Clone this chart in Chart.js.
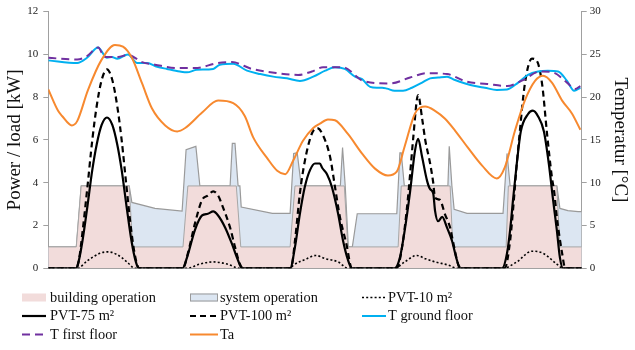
<!DOCTYPE html>
<html><head><meta charset="utf-8">
<script src="https://cdn.jsdelivr.net/npm/chart.js@4.4.0/dist/chart.umd.min.js"></script>
<style>html,body{margin:0;padding:0;background:#fff;}#wrap{width:635px;height:350px;}</style>
</head><body><div id="wrap"><canvas id="c" width="635" height="350"></canvas></div>
<script>
// ---- data (x = hours over 5 days) ----
const buildingH  = [0, 6.3, 7.4, 18.2, 19.0, 30.3, 31.4, 42.3, 43.3, 54.4, 55.5, 66.6, 67.4, 78.7, 79.4, 90.4, 91.0, 103.0, 103.5, 114.4, 115.1, 120];
const buildingKW = [1, 1, 3.85, 3.85, 1, 1, 3.85, 3.85, 1, 1, 3.85, 3.85, 1, 1, 3.85, 3.85, 1, 1, 3.85, 3.85, 1, 1];

const systemH  = [0, 6.3, 7.4, 18.2, 18.8, 24.0, 30.1, 30.3, 31.0, 33.2, 34.1, 40.9, 41.4, 42.0, 42.7, 43.1, 43.4, 50.4, 54.4, 55.2, 56.0, 56.9, 65.7, 66.2, 66.8, 67.5, 68.4, 69.5, 78.4, 79.1, 79.4, 80.1, 89.9, 90.2, 90.8, 91.3, 94.2, 102.3, 103.2, 103.9, 114.4, 115.1, 116.9, 119.2, 120];
const systemKW = [1, 1, 3.85, 3.85, 3.08, 2.8, 2.67, 2.67, 5.55, 5.7, 3.85, 3.85, 5.84, 5.84, 3.85, 3.85, 2.86, 2.57, 2.57, 5.37, 5.4, 3.85, 3.85, 5.65, 3.85, 1, 1, 2.55, 2.55, 5.4, 5.4, 3.85, 3.85, 5.7, 3.85, 2.76, 2.57, 2.57, 5.37, 3.85, 3.85, 2.8, 2.7, 2.65, 2.65];

const pvt10H  = [0, 6.5, 8.9, 11.6, 13.4, 15.4, 17.7, 19.5, 31.2, 34.1, 37.1, 40.2, 43.1, 54.4, 55.1, 58.2, 60.2, 62.3, 65.2, 67.4, 77.9, 80.2, 82.9, 84.8, 87.0, 90.0, 92.0, 102.3, 105.4, 108.8, 111.3, 114.4, 115.8, 120];
const pvt10KW = [0, 0, 0.37, 0.7, 0.77, 0.65, 0.3, 0, 0, 0.2, 0.3, 0.2, 0, 0, 0.14, 0.45, 0.6, 0.45, 0.3, 0, 0, 0.3, 0.6, 0.45, 0.3, 0.15, 0, 0, 0.3, 0.8, 0.7, 0.2, 0, 0];

const pvt75H  = [0, 6.2, 6.8, 7.7, 8.8, 9.9, 10.9, 12.0, 13.2, 14.4, 15.5, 16.5, 17.6, 18.7, 19.7, 20.4,
                 30.2, 31.2, 33.0, 34.6, 35.9, 37.1, 38.2, 39.8, 41.3, 42.5, 43.6,
                 54.4, 55.5, 56.6, 57.7, 58.9, 60.0, 61.1, 61.6, 62.7, 63.8, 65.2, 66.3, 67.4, 68.3,
                 77.9, 79.1, 80.2, 81.4, 82.5, 83.2, 84.1, 85.2, 85.9, 86.6, 87.0, 87.7, 88.6, 89.7, 90.8, 91.9, 92.6,
                 102.1, 103.2, 103.9, 104.6, 105.4, 106.3, 107.9, 109.0, 110.2, 111.5, 112.6, 113.5, 114.4, 115.1, 115.8, 120];
const pvt75KW = [0, 0, 0.3, 1.3, 2.9, 4.6, 5.8, 6.7, 7.05, 6.7, 5.8, 4.6, 2.9, 1.3, 0.3, 0,
                 0, 0.5, 1.8, 2.47, 2.55, 2.66, 2.47, 1.9, 1.15, 0.47, 0,
                 0, 1.0, 2.55, 3.8, 4.6, 4.9, 4.9, 4.7, 4.4, 3.8, 2.55, 1.3, 0.4, 0,
                 0, 0.5, 1.8, 3.6, 5.5, 6.05, 5.2, 4.1, 3.7, 3.5, 2.7, 2.2, 2.4, 1.9, 1.3, 0.4, 0,
                 0, 0.7, 1.8, 3.3, 4.9, 6.4, 7.2, 7.37, 7.1, 6.4, 4.9, 3.3, 1.8, 0.5, 0, 0];

const pvt100H  = [0, 6.3, 6.9, 7.7, 8.8, 9.9, 10.9, 12.0, 13.2, 14.4, 15.5, 16.5, 17.6, 18.7, 19.7, 20.5,
                  30.3, 31.4, 33.0, 34.6, 35.9, 37.1, 38.2, 39.3, 40.9, 42.0, 43.1, 43.8,
                  54.6, 55.5, 56.6, 57.7, 59.3, 60.5, 61.6, 63.4, 64.5, 65.6, 67.2, 67.9, 68.3,
                  78.4, 79.6, 80.7, 81.4, 82.1, 83.2, 84.1, 84.8, 85.9, 86.6, 87.0, 88.1, 89.2, 90.4, 91.0, 92.2, 93.1,
                  102.7, 103.9, 104.6, 105.4, 105.9, 107.2, 108.8, 109.9, 111.1, 112.2, 113.3, 113.8, 114.4, 115.6, 116.3, 120];
const pvt100KW = [0, 0, 0.4, 1.7, 3.8, 6.0, 7.6, 8.8, 9.3, 8.8, 7.6, 6.0, 3.8, 1.7, 0.4, 0,
                  0, 0.7, 2.1, 3.2, 3.4, 3.6, 3.4, 2.85, 1.9, 1.0, 0.2, 0,
                  0, 1.3, 3.5, 5.0, 6.3, 6.55, 6.3, 5.2, 3.8, 2.4, 1.0, 0.2, 0,
                  0, 1.0, 2.85, 4.4, 6.1, 8.1, 7.0, 6.0, 4.9, 4.0, 3.3, 3.2, 2.55, 1.9, 1.3, 0.2, 0,
                  0, 1.3, 2.85, 4.9, 6.0, 8.6, 9.8, 9.7, 8.6, 6.3, 4.25, 3.6, 2.4, 0.7, 0, 0];

const tGroundH = [0, 6.5, 8.7, 11.2, 13.2, 14.3, 15.5, 17.9, 20.0, 22.2, 24.5, 26.7, 29.6, 31.2, 33.4, 37.1, 38.6, 41.6, 44.7, 47.7, 50.6, 53.7, 56.6, 59.6, 62.3, 64.5, 66.7, 69.0, 70.6, 72.4, 73.9, 75.1, 76.2, 77.9, 79.8, 81.8, 84.1, 85.9, 87.7, 89.7, 91.5, 93.8, 96.0, 98.2, 100.9, 103.2, 105.7, 107.9, 110.2, 112.4, 114.7, 116.7, 118.3, 119.7];
const tGroundC = [24.3, 24.0, 24.6, 25.8, 24.6, 24.7, 24.5, 25.0, 24.0, 24.0, 23.55, 23.3, 23.0, 22.9, 23.2, 23.3, 23.8, 23.9, 23.1, 22.7, 22.4, 22.2, 21.9, 22.4, 23.1, 23.5, 23.3, 22.4, 22.1, 21.2, 21.1, 21.1, 21.0, 20.75, 20.75, 21.1, 21.7, 22.2, 22.3, 22.4, 22.0, 21.6, 21.3, 21.1, 20.85, 20.9, 21.7, 22.6, 23.0, 23.1, 23.0, 21.9, 20.75, 21.1];

const tFirstH = [0, 6.5, 8.7, 11.2, 12.7, 15.7, 17.9, 21.1, 24.0, 29.2, 33.0, 38.2, 41.3, 45.8, 51.7, 56.2, 59.3, 61.8, 66.3, 70.8, 76.9, 81.4, 85.2, 89.7, 94.2, 98.7, 103.2, 106.8, 110.6, 113.5, 116.7, 118.5, 119.7];
const tFirstC = [24.6, 24.4, 24.8, 25.8, 24.7, 24.7, 24.95, 24.1, 23.8, 23.4, 23.4, 24.0, 24.1, 23.3, 22.8, 22.6, 23.0, 23.5, 23.5, 21.9, 21.6, 22.3, 22.8, 22.7, 21.8, 21.55, 21.3, 22.0, 23.0, 22.9, 21.7, 20.95, 21.3];

const taH = [0, 2.2, 3.1, 5.3, 6.5, 8.9, 11.9, 15.0, 16.8, 18.8, 21.1, 23.3, 26.3, 29.0, 30.8, 34.6, 38.2, 41.6, 44.2, 46.1, 49.2, 51.5, 53.3, 55.1, 57.3, 59.6, 61.1, 62.9, 64.5, 67.4, 70.6, 73.5, 76.4, 78.4, 80.2, 82.5, 84.8, 87.0, 89.2, 91.5, 94.4, 97.6, 100.9, 102.7, 105.0, 107.2, 109.5, 111.3, 113.3, 115.6, 117.8, 119.7];
const taC = [20.9, 18.4, 17.8, 16.7, 17.2, 20.8, 24.3, 26.1, 25.9, 24.6, 21.6, 18.7, 16.7, 16.0, 16.4, 18.2, 19.6, 19.3, 17.8, 15.3, 12.9, 11.4, 11.0, 12.6, 14.9, 16.4, 16.9, 17.4, 17.3, 15.7, 13.4, 11.65, 10.85, 11.3, 14.3, 18.1, 18.9, 18.4, 17.5, 16.1, 14.1, 12.0, 10.5, 11.8, 16.1, 19.6, 21.9, 22.5, 21.7, 19.6, 18.1, 16.2];

const leftTicks = { min: 0, max: 12, step: 2 };
const rightTicks = { min: 0, max: 30, step: 5 };

// ---- chart ----
const zip = (xs, ys) => xs.map((x, i) => ({ x, y: ys[i] }));
const FONT = "'Liberation Serif', 'Times New Roman', serif";
const AXIS = '#A0A0A0';

const datasets = [
  { label: 'building operation', data: zip(buildingH, buildingKW), yAxisID: 'y', fill: 'origin',
    backgroundColor: '#F2DCDB', borderColor: '#A6A6A6', borderWidth: 1, tension: 0, order: 9, legendType: 'box' },
  { label: 'system operation', data: zip(systemH, systemKW), yAxisID: 'y', fill: 'origin',
    backgroundColor: '#DCE6F2', borderColor: '#9A9A9A', borderWidth: 1.2, tension: 0, order: 10, legendType: 'boxBorder' },
  { label: 'PVT-10 m²', data: zip(pvt10H, pvt10KW), yAxisID: 'y', borderColor: '#000', borderWidth: 1.6,
    borderDash: [2, 2.2], cubicInterpolationMode: 'monotone', order: 5 },
  { label: 'PVT-75 m²', data: zip(pvt75H, pvt75KW), yAxisID: 'y', borderColor: '#000', borderWidth: 2.2,
    cubicInterpolationMode: 'monotone', order: 3 },
  { label: 'PVT-100 m²', data: zip(pvt100H, pvt100KW), yAxisID: 'y', borderColor: '#000', borderWidth: 2.2,
    borderDash: [6, 4], cubicInterpolationMode: 'monotone', order: 4 },
  { label: 'T ground floor', data: zip(tGroundH, tGroundC), yAxisID: 'y2', borderColor: '#00B0F0', borderWidth: 2,
    cubicInterpolationMode: 'monotone', order: 2 },
  { label: 'T first floor', data: zip(tFirstH, tFirstC), yAxisID: 'y2', borderColor: '#7030A0', borderWidth: 2,
    borderDash: [8, 5], cubicInterpolationMode: 'monotone', order: 1 },
  { label: 'Ta', data: zip(taH, taC), yAxisID: 'y2', borderColor: '#F7892F', borderWidth: 2,
    cubicInterpolationMode: 'monotone', order: 0 },
];
datasets.forEach(d => { d.pointRadius = 0; d.pointHoverRadius = 0; if (!d.fill) d.fill = false; });

const legendPlugin = {
  id: 'customLegend',
  afterDraw(chart) {
    const ctx = chart.ctx;
    const cols = [{ s: 22, e: 46, t: 50 }, { s: 190, e: 218, t: 220 }, { s: 362, e: 386, t: 388 }];
    const rows = [297.5, 316, 334.5];
    ctx.save();
    ctx.font = '14.4px ' + FONT;
    ctx.textBaseline = 'middle';
    ctx.textAlign = 'left';
    chart.data.datasets.forEach((ds, i) => {
      const c = cols[i % 3], y = rows[Math.floor(i / 3)];
      if (ds.legendType) {
        ctx.fillStyle = ds.backgroundColor;
        ctx.fillRect(c.s, y - 4, c.e - c.s, 8);
        if (ds.legendType === 'boxBorder') {
          ctx.strokeStyle = ds.borderColor; ctx.lineWidth = 1;
          ctx.strokeRect(c.s + 0.5, y - 3.5, c.e - c.s - 1, 7);
        }
      } else {
        ctx.beginPath();
        ctx.setLineDash(ds.borderDash || []);
        ctx.strokeStyle = ds.borderColor;
        ctx.lineWidth = ds.borderWidth;
        ctx.moveTo(c.s, y); ctx.lineTo(c.e, y);
        ctx.stroke();
        ctx.setLineDash([]);
      }
      ctx.fillStyle = '#111';
      ctx.fillText(ds.label, c.t, y + 0.5);
    });
    ctx.restore();
  }
};

const yCommon = (t, title, pos) => ({
  type: 'linear', position: pos, min: t.min, max: t.max,
  ticks: { stepSize: t.step, color: '#222', font: { family: FONT, size: 11 }, padding: pos === 'left' ? 5 : 3 },
  grid: { display: true, drawOnChartArea: false, drawTicks: true, tickLength: 5, color: AXIS },
  border: { display: true, color: AXIS, width: 1 },
  title: { display: true, text: title, color: '#111', font: { family: FONT, size: 19 }, padding: { top: 4, bottom: 4 } },
});

const yLeft = yCommon(leftTicks, 'Power / load [kW]', 'left');
yLeft.afterFit = s => { s.width = 48.3; };
const yRight = yCommon(rightTicks, 'Temperatur [°C]', 'right');
yRight.afterFit = s => { s.width = 53.3; };
yRight.grid.drawOnChartArea = false;

new Chart(document.getElementById('c'), {
  type: 'line',
  data: { datasets },
  options: {
    responsive: false, animation: false, devicePixelRatio: 1,
    layout: { padding: { top: 11, bottom: 81.7, left: 0, right: 0 } },
    plugins: { legend: { display: false }, tooltip: { enabled: false } },
    scales: {
      x: { type: 'linear', min: 0, max: 120, ticks: { display: false },
           grid: { display: false, drawTicks: false }, border: { display: true, color: AXIS },
           afterFit: s => { s.height = 0; } },
      y: yLeft,
      y2: yRight,
    }
  },
  plugins: [legendPlugin]
});
</script></body></html>
